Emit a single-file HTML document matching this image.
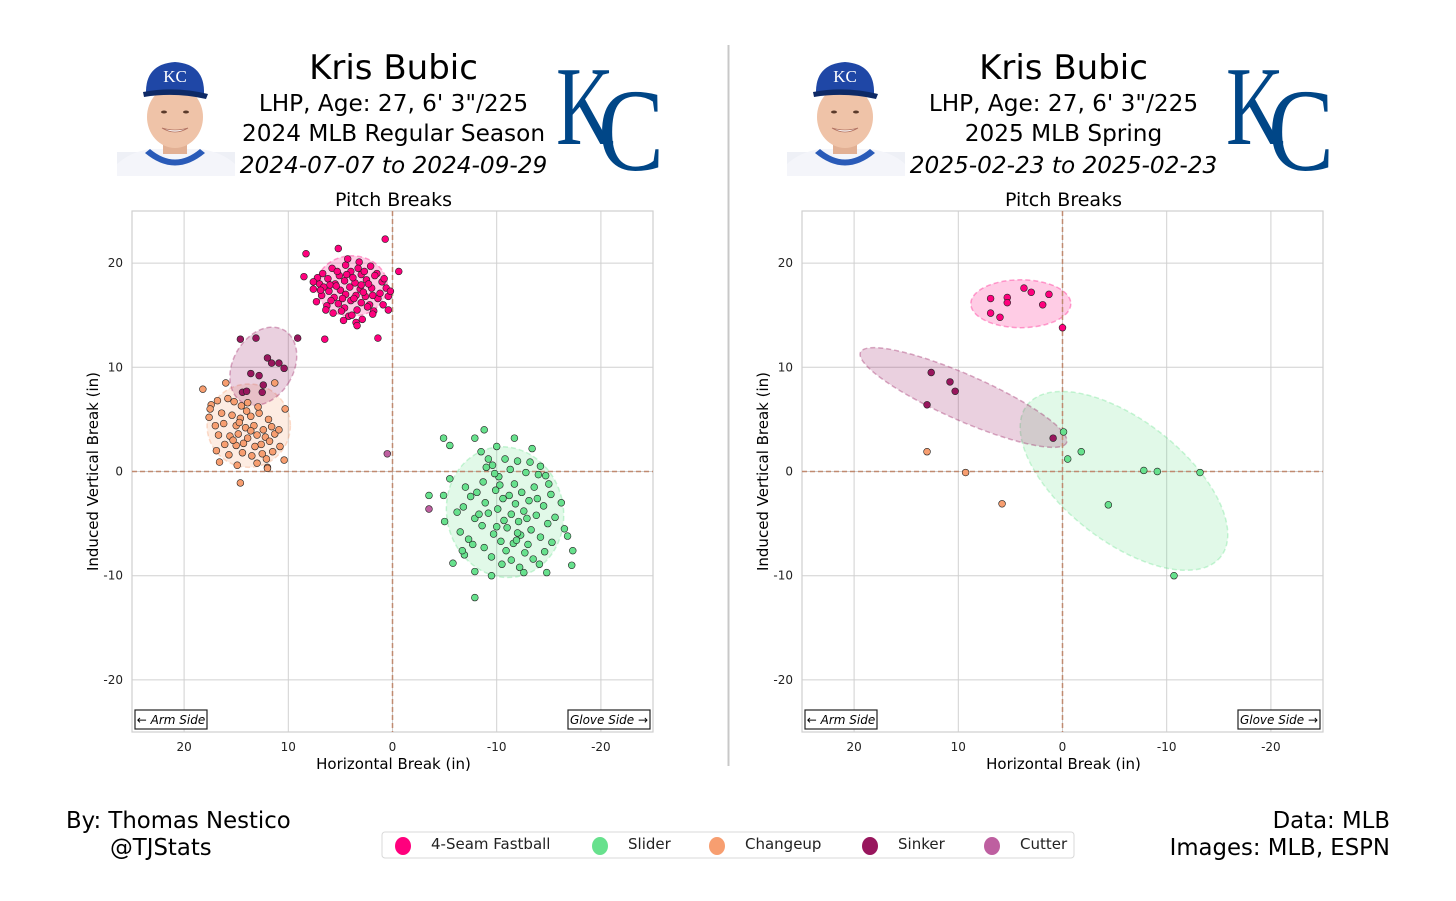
<!DOCTYPE html>
<html><head><meta charset="utf-8"><style>
html,body{margin:0;padding:0;background:#fff;}
svg{display:block;font-family:"DejaVu Sans","Liberation Sans",sans-serif;}
</style></head><body>
<svg id="root" width="1456" height="901" viewBox="0 0 1456 901" xmlns="http://www.w3.org/2000/svg">
<rect width="1456" height="901" fill="#fff"/>
<defs>
<g id="headshot">
  <rect x="117" y="152" width="118" height="24" fill="#eef0f6"/>
  <path d="M117 176 L117 164 Q130 152 150 149 L200 149 Q222 152 235 164 L235 176 Z" fill="#f4f5fa"/>
  <path d="M150 149 Q175 170 200 149 L205 153 Q175 178 145 153 Z" fill="#2a5bb8"/>
  <rect x="163" y="130" width="24" height="24" fill="#e2b094"/>
  <ellipse cx="175" cy="117" rx="28" ry="31" fill="#efc3a8"/>
  <path d="M162 128 Q175 136 188 128 Q175 132 162 128 Z" fill="#fff" stroke="#b07060" stroke-width="0.8"/>
  <ellipse cx="164" cy="112" rx="3" ry="1.5" fill="#5a3a2a"/>
  <ellipse cx="186" cy="112" rx="3" ry="1.5" fill="#5a3a2a"/>
  <path d="M146 94 Q145 64 175 62 Q205 64 204 94 Z" fill="#1f47a6"/>
  <path d="M143 92 Q175 86 208 94 L206 99 Q175 92 144 97 Z" fill="#0e2a66"/>
  <text x="175" y="82" text-anchor="middle" font-family="Liberation Serif,serif" font-size="17" fill="#fff">KC</text>
</g>
<g id="kclogo">
  <text x="556" y="144" font-family="Liberation Serif,serif" font-size="112" fill="#004687" textLength="58" lengthAdjust="spacingAndGlyphs">K</text>
  <text x="598" y="170" font-family="Liberation Serif,serif" font-size="118" fill="#004687" textLength="66" lengthAdjust="spacingAndGlyphs">C</text>
</g>
</defs>
<g id="panels"></g>
<line x1="728.5" y1="45" x2="728.5" y2="766" stroke="#c8c8c8" stroke-width="2"/>
<text x="66" y="828" font-size="22.8" fill="#000">By: Thomas Nestico</text>
<text x="110" y="855" font-size="22.8" fill="#000">@TJStats</text>
<text x="1390" y="828" font-size="22.8" text-anchor="end" fill="#000">Data: MLB</text>
<text x="1390" y="855" font-size="22.8" text-anchor="end" fill="#000">Images: MLB, ESPN</text>
<g id="legend">
  <rect x="382" y="832" width="692" height="26" rx="3" fill="#fff" stroke="#d8d8d8"/>
</g>
</svg>
<script>
const NS="http://www.w3.org/2000/svg";
const pitchNames=["4-Seam Fastball","Slider","Changeup","Sinker","Cutter"];
const pitchColors=["#FF007D","#67E18D","#F79E70","#98165D","#BE5FA0"];
const xTicks=[20,10,0,-10,-20];
const yTicks=[20,10,0,-10,-20];
const tickLabels=["20","10","0","-10","-20"];

// ---- Left panel (2024 regular season) data: [horizontal break, induced vertical break]
const leftFastball=[[4.5,19.8],[3.2,20.1],[5.8,19.5],[2.1,19.7],[6.7,19.0],[4.0,19.2],[3.0,18.9],[5.1,18.8],[1.5,19.0],[6.2,18.5],[4.6,18.3],[3.6,18.1],[2.5,18.4],[5.5,18.0],[7.0,18.0],[1.0,18.2],[4.1,17.7],[3.1,17.5],[2.0,17.6],[5.0,17.4],[6.1,17.3],[0.6,17.6],[4.5,17.0],[3.5,16.9],[2.6,16.8],[5.6,16.7],[6.8,16.9],[1.4,16.6],[4.0,16.4],[3.0,16.2],[5.2,16.1],[2.2,16.0],[6.3,15.9],[4.6,15.7],[3.4,15.5],[1.8,15.4],[5.7,15.2],[4.2,14.9],[2.9,14.6],[6.0,17.9],[3.8,18.6],[2.8,17.2],[4.8,16.6],[1.2,17.1],[0.4,16.8],[0.9,16.0],[5.3,19.2],[7.3,16.3],[6.6,17.7],[3.3,19.5],[2.4,15.8],[4.9,15.4],[3.9,15.0],[1.7,18.8],[0.2,17.3],[5.9,16.4],[2.7,19.2],[4.3,20.4],[6.4,15.5],[3.7,16.6],[4.4,18.9],[1.9,16.9],[5.4,17.8],[2.3,18.0],[3.5,14.3],[4.7,14.5],[6.9,17.4],[0.8,18.5],[7.2,18.6],[3.0,17.9],
[0.7,22.3],[5.2,21.4],[8.3,20.9],[-0.6,19.2],[8.5,18.7],[7.6,18.2],[7.6,17.5],[6.5,12.7],[1.4,12.8],[3.4,14.0],[0.4,15.5],[1.9,15.1]];
const leftSlider=[[-10.8,1.2],[-12.0,1.0],[-13.2,0.9],[-9.6,0.6],[-11.3,0.2],[-12.8,-0.1],[-10.2,-0.5],[-14.0,-0.3],[-8.7,-1.0],[-11.7,-1.2],[-13.6,-1.5],[-9.9,-1.8],[-12.4,-2.0],[-15.2,-2.2],[-7.5,-2.4],[-10.6,-2.6],[-13.1,-2.8],[-8.9,-3.0],[-11.8,-3.1],[-14.5,-3.3],[-16.2,-3.0],[-6.8,-3.4],[-10.1,-3.6],[-12.6,-3.8],[-9.2,-4.0],[-11.4,-4.1],[-13.8,-4.2],[-15.6,-4.4],[-7.9,-4.5],[-10.7,-4.7],[-12.1,-4.8],[-14.9,-5.0],[-8.6,-5.2],[-11.0,-5.4],[-13.3,-5.6],[-16.5,-5.5],[-6.5,-5.8],[-9.7,-6.0],[-12.3,-6.1],[-14.2,-6.3],[-7.3,-6.5],[-10.4,-6.7],[-11.6,-6.9],[-13.0,-7.0],[-15.3,-6.8],[-8.8,-7.3],[-10.9,-7.6],[-12.7,-7.8],[-14.6,-7.7],[-9.5,-8.2],[-11.4,-8.5],[-13.5,-8.4],[-6.2,-3.9],[-7.0,-1.5],[-8.1,-2.0],[-9.8,-0.2],[-12.9,-4.5],[-11.2,-2.3],[-10.0,-5.3],[-12.0,-5.9],[-13.9,-2.6],[-15.0,-1.2],[-16.8,-6.2],[-7.7,-7.0],[-9.0,0.4],[-11.9,-6.6],[-10.5,-8.9],[-12.2,-9.2],[-8.3,-4.1],[-14.1,-8.9],[-6.9,-8.0],[-10.3,-1.3],
[-4.9,3.2],[-5.5,2.5],[-8.8,4.0],[-7.9,3.2],[-11.7,3.2],[-13.4,2.2],[-3.5,-2.3],[-4.9,-2.3],[-5.5,-0.7],[-7.9,-12.1],[-7.9,-9.6],[-9.5,-10.0],[-17.3,-7.6],[-17.2,-9.0],[-14.8,-9.7],[-12.6,-9.7],[-5.0,-4.8],[-5.8,-8.8],[-6.7,-7.6],[-14.7,-0.4],[-14.2,0.5],[-10.0,2.4],[-8.5,1.9],[-9.2,1.2]];
const leftChangeup=[[17.4,6.4],[17.5,6.0],[17.6,5.2],[16.8,6.8],[15.8,7.0],[15.2,6.7],[14.5,6.3],[13.9,6.6],[16.4,5.6],[15.4,5.4],[14.6,5.1],[13.6,5.3],[12.8,5.6],[16.2,4.6],[15.0,4.4],[14.1,4.2],[13.3,4.4],[12.4,4.0],[11.6,4.3],[16.7,3.5],[15.6,3.4],[14.8,3.6],[13.9,3.2],[13.0,3.5],[12.2,3.3],[11.3,3.6],[10.9,4.0],[16.1,2.6],[15.0,2.5],[14.3,2.7],[13.2,2.4],[12.6,2.6],[11.8,2.9],[15.7,1.6],[14.4,1.8],[13.5,1.5],[12.1,1.2],[11.5,1.9],[16.6,0.9],[14.9,0.6],[13.0,0.8],[12.0,0.4],[17.0,4.4],[14.0,5.8],[12.9,6.2],[15.3,3.0],[13.6,3.9],[11.9,5.0],[10.8,2.4],[16.9,2.0],[14.7,4.7],[12.5,1.7],
[18.2,7.9],[14.6,-1.1],[12.0,0.3],[10.3,6.0],[10.4,1.1],[11.3,8.5],[16.0,8.5]];
const leftSinker=[[14.6,12.7],[13.1,12.8],[9.1,12.8],[12.0,10.9],[11.6,10.4],[10.9,10.4],[10.4,9.9],[13.6,9.4],[12.8,9.2],[12.4,8.3],[14.4,7.6],[14.0,7.7],[12.5,7.6]];
const leftCutter=[[0.5,1.7],[-3.5,-3.6]];
// ellipses: [center x, center y, semi-axis x, semi-axis y, tilt deg]
const leftEllipses=[[3.9,17.8,3.4,2.9,0],[-10.8,-3.9,5.6,6.3,-12],[13.8,4.4,4.0,4.0,0],[12.4,10.1,2.9,4.0,30],null];

// ---- Right panel (2025 spring) data
const rightFastball=[[6.9,16.6],[5.3,16.7],[5.3,16.2],[3.7,17.6],[3.0,17.2],[1.3,17.0],[1.9,16.0],[6.9,15.2],[6.0,14.8],[0.0,13.8]];
const rightSlider=[[-0.1,3.8],[-0.5,1.2],[-1.8,1.9],[-7.8,0.1],[-9.1,0.0],[-13.2,-0.1],[-4.4,-3.2],[-10.7,-10.0]];
const rightChangeup=[[13.0,1.9],[9.3,-0.1],[5.8,-3.1]];
const rightSinker=[[12.6,9.5],[10.8,8.6],[10.3,7.7],[13.0,6.4],[0.9,3.2]];
const rightCutter=[];
const rightEllipses=[[4.0,16.1,4.8,2.3,0],[-5.9,-0.9,11.8,5.8,38],null,[9.5,7.1,10.8,2.2,23.7],null];

function mk(tag,attrs,parent){const e=document.createElementNS(NS,tag);for(const k in attrs)e.setAttribute(k,attrs[k]);if(parent)parent.appendChild(e);return e;}

function panel(ox, season, dates, series, ellipses, key){
  const root=document.getElementById('panels');
  const g=mk('g',{},root);
  
  
  const L=ox, T=211, S=521;
  const sx=v=>L+S/2 - v*(S/50);
  const sy=v=>T+S/2 - v*(S/50);
  const cx=L+S/2+1;
  const hs=mk('use',{href:'#headshot',transform:`translate(${ox-132},0)`},g);
  
  
  const lg=mk('use',{href:'#kclogo',transform:`translate(${ox-132},0)`},g);
  
  
  const lines=[["Kris Bubic",79,34,"normal","player-name"],['LHP, Age: 27, 6\' 3"/225',111,23.2,"normal","player-bio"],[season,141,23.2,"normal","season-label"],[dates,173,23.2,"italic","date-range"]];
  lines.forEach(l=>{const t=mk('text',{x:cx,y:l[1],'font-size':l[2],'font-style':l[3],'text-anchor':'middle',fill:'#000'},g);t.textContent=l[0];
    
    });
  const ttl=mk('text',{x:cx,y:206,'font-size':19,'text-anchor':'middle',fill:'#000'},g);ttl.textContent="Pitch Breaks";
  
  
  xTicks.forEach((v,i)=>{const ln=mk('line',{x1:sx(v),x2:sx(v),y1:T,y2:T+S,stroke:'#d0d0d0','stroke-width':1},g);
    
    
    const t=mk('text',{x:sx(v),y:T+S+19,'font-size':12,'text-anchor':'middle',fill:'#222'},g);t.textContent=tickLabels[i];
    
    });
  yTicks.forEach((v,i)=>{const ln=mk('line',{x1:L,x2:L+S,y1:sy(v),y2:sy(v),stroke:'#d0d0d0','stroke-width':1},g);
    
    
    const t=mk('text',{x:L-9,y:sy(v)+4,'font-size':12,'text-anchor':'end',fill:'#222'},g);t.textContent=tickLabels[i];
    
    });
  const fr=mk('rect',{x:L,y:T,width:S,height:S,fill:'none',stroke:'#cfcfcf','stroke-width':1.2},g);
  
  
  ellipses.forEach((e,i)=>{if(!e)return;
    const el=mk('ellipse',{cx:sx(e[0]),cy:sy(e[1]),rx:e[2]*S/50,ry:e[3]*S/50,transform:`rotate(${e[4]} ${sx(e[0])} ${sy(e[1])})`,fill:pitchColors[i],'fill-opacity':0.2,stroke:pitchColors[i],'stroke-opacity':0.35,'stroke-width':1.5,'stroke-dasharray':'5,3'},g);
    
    });
  const z1=mk('line',{x1:sx(0),x2:sx(0),y1:T,y2:T+S,stroke:'#c08a70','stroke-width':1.5,'stroke-dasharray':'5,3'},g);
  
  
  const z2=mk('line',{x1:L,x2:L+S,y1:sy(0),y2:sy(0),stroke:'#c08a70','stroke-width':1.5,'stroke-dasharray':'5,3'},g);
  
  
  series.forEach((pts,i)=>{pts.forEach(p=>{
    const c=mk('circle',{cx:sx(p[0]),cy:sy(p[1]),r:3.4,fill:pitchColors[i],stroke:'#222','stroke-width':0.6},g);
    
    });});
  const xl=mk('text',{x:cx,y:T+S+37,'font-size':15,'text-anchor':'middle',fill:'#000'},g);xl.textContent="Horizontal Break (in)";
  
  
  const yl=mk('text',{x:0,y:0,'font-size':15,'text-anchor':'middle',fill:'#000',transform:`translate(${L-34},${T+S/2}) rotate(-90)`},g);yl.textContent="Induced Vertical Break (in)";
  
  
  const b1=mk('rect',{x:L+3,y:T+S-22,width:72,height:19,fill:'#fff',stroke:'#222','stroke-width':1.2},g);
  
  
  const t1=mk('text',{x:L+39,y:T+S-8,'font-size':12,'font-style':'italic','text-anchor':'middle',fill:'#000'},g);t1.textContent="← Arm Side";
  
  
  const b2=mk('rect',{x:L+S-85,y:T+S-22,width:82,height:19,fill:'#fff',stroke:'#222','stroke-width':1.2},g);
  
  
  const t2=mk('text',{x:L+S-44,y:T+S-8,'font-size':12,'font-style':'italic','text-anchor':'middle',fill:'#000'},g);t2.textContent="Glove Side →";
  
  
}
panel(132,"2024 MLB Regular Season","2024-07-07 to 2024-09-29",[leftFastball,leftSlider,leftChangeup,leftSinker,leftCutter],leftEllipses,'left');
panel(802,"2025 MLB Spring","2025-02-23 to 2025-02-23",[rightFastball,rightSlider,rightChangeup,rightSinker,rightCutter],rightEllipses,'right');

const legendX=[403,600,717,870,992];
const leg=document.getElementById('legend');
pitchNames.forEach((n,i)=>{
  const m=mk('ellipse',{cx:legendX[i],cy:846,rx:8,ry:9,fill:pitchColors[i]},leg);
  
  
  const t=mk('text',{x:legendX[i]+28,y:849,'font-size':15,fill:'#222'},leg);t.textContent=n;
  
  
});
</script>
</body></html>
